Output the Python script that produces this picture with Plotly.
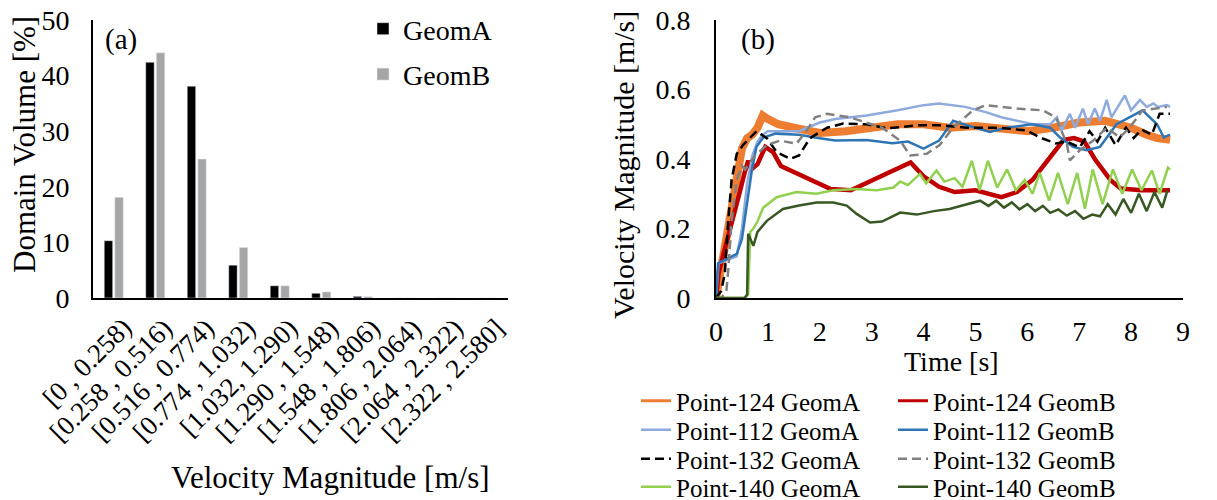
import plotly.graph_objects as go

W, H = 1217, 500
FONT = "Liberation Serif"

# ---------------- (a) histogram data ----------------
bins = ["[0 , 0.258)", "[0.258 , 0.516)", "[0.516 , 0.774)", "[0.774 , 1.032)",
        "[1.032, 1.290)", "[1.290 , 1.548)", "[1.548 , 1.806)", "[1.806 , 2.064)",
        "[2.064 , 2.322)", "[2.322 , 2.580]"]
geomA_vol = [10.3, 42.4, 38.1, 5.9, 2.2, 0.85, 0.3, 0.0, 0.0, 0.0]
geomB_vol = [18.1, 44.1, 25.0, 9.1, 2.2, 1.1, 0.25, 0.0, 0.0, 0.0]

# ---------------- (b) time series data ----------------
t_124A = [0, 0.1, 0.2, 0.3, 0.4, 0.5, 0.6, 0.7, 0.8, 0.9, 1.0, 1.2, 1.5, 1.8, 2.0, 2.5,
          3.0, 3.5, 4.0, 4.5, 5.0, 5.5, 6.0, 6.5, 7.0, 7.5, 8.0, 8.3, 8.5, 8.75]
v_124A = [0, 0.09, 0.15, 0.26, 0.36, 0.43, 0.46, 0.47, 0.49, 0.525, 0.515, 0.50, 0.49, 0.48,
          0.475, 0.48, 0.49, 0.50, 0.50, 0.49, 0.495, 0.49, 0.48, 0.49, 0.505, 0.51, 0.49,
          0.47, 0.46, 0.455]

t_124B = [0, 0.05, 0.15, 0.3, 0.45, 0.55, 0.62, 0.68, 0.8, 0.95, 1.1, 1.25, 1.55, 1.9, 2.2,
          2.6, 2.9, 3.3, 3.6, 3.75, 4.0, 4.3, 4.6, 5.0, 5.5, 5.8, 6.1, 6.4, 6.7, 6.9, 7.1,
          7.3, 7.6, 7.8, 8.2, 8.75]
v_124B = [0, 0.07, 0.13, 0.21, 0.30, 0.36, 0.395, 0.37, 0.385, 0.435, 0.42, 0.38, 0.36,
          0.335, 0.314, 0.31, 0.33, 0.36, 0.38, 0.39, 0.35, 0.32, 0.305, 0.31, 0.29, 0.305,
          0.34, 0.40, 0.455, 0.46, 0.45, 0.40, 0.34, 0.315, 0.31, 0.31]

t_112A = [0, 0.05, 0.4, 0.5, 0.6, 0.7, 0.8, 0.9, 1.0, 1.3, 1.6, 2.0, 2.3, 2.9, 3.5, 4.0,
          4.3, 4.8, 5.2, 5.5, 6.1, 6.44, 6.57, 6.66, 6.82, 6.92, 7.07, 7.17, 7.3, 7.4, 7.53,
          7.62, 7.88, 8.0, 8.17, 8.3, 8.43, 8.52, 8.69, 8.75]
v_112A = [0, 0.10, 0.12, 0.20, 0.33, 0.41, 0.45, 0.47, 0.48, 0.48, 0.48, 0.505, 0.515,
          0.525, 0.54, 0.555, 0.56, 0.55, 0.535, 0.52, 0.50, 0.50, 0.52, 0.482, 0.53, 0.49,
          0.545, 0.50, 0.545, 0.51, 0.57, 0.52, 0.583, 0.54, 0.57, 0.55, 0.56, 0.55, 0.555,
          0.55]

t_112B = [0, 0.04, 0.2, 0.4, 0.5, 0.59, 0.69, 0.78, 0.91, 1.15, 1.6, 2.0, 2.3, 2.9, 3.4,
          3.7, 4.0, 4.3, 4.57, 4.83, 5.28, 5.6, 6.1, 6.44, 6.63, 6.88, 7.14, 7.4, 7.72, 8.03,
          8.22, 8.5, 8.63, 8.75]
v_112B = [0, 0.10, 0.112, 0.127, 0.17, 0.26, 0.367, 0.435, 0.462, 0.473, 0.47, 0.46, 0.453,
          0.455, 0.445, 0.45, 0.43, 0.453, 0.51, 0.497, 0.478, 0.49, 0.50, 0.49, 0.462, 0.435,
          0.425, 0.435, 0.50, 0.525, 0.54, 0.50, 0.462, 0.47]

t_132A = [0, 0.1, 0.17, 0.23, 0.3, 0.4, 0.52, 0.78, 0.98, 1.17, 1.43, 1.6, 1.81, 2.14, 2.45,
          2.9, 3.3, 3.87, 4.31, 4.83, 5.47, 5.99, 6.24, 6.55, 6.76, 7.01, 7.2, 7.35, 7.5, 7.7,
          7.9, 8.05, 8.2, 8.4, 8.55, 8.75]
v_132A = [0, 0.02, 0.07, 0.21, 0.34, 0.415, 0.44, 0.48, 0.46, 0.42, 0.40, 0.41, 0.46, 0.49,
          0.502, 0.50, 0.488, 0.497, 0.497, 0.49, 0.49, 0.482, 0.462, 0.445, 0.45, 0.433, 0.48,
          0.45, 0.49, 0.44, 0.49, 0.46, 0.485, 0.47, 0.53, 0.53]

t_132B = [0, 0.1, 0.2, 0.24, 0.3, 0.4, 0.5, 0.56, 0.75, 0.98, 1.23, 1.55, 1.75, 1.91, 2.14,
          2.58, 3.2, 3.55, 3.74, 4.06, 4.31, 4.57, 4.95, 5.2, 5.8, 6.3, 6.55, 6.76, 6.82, 7.01,
          7.27, 7.53, 7.78, 7.97, 8.22, 8.5, 8.69]
v_132B = [0, 0, 0.02, 0.087, 0.22, 0.34, 0.38, 0.37, 0.41, 0.44, 0.453, 0.444, 0.482, 0.52,
          0.53, 0.52, 0.49, 0.453, 0.41, 0.415, 0.44, 0.49, 0.54, 0.555, 0.545, 0.54, 0.52,
          0.444, 0.396, 0.425, 0.453, 0.49, 0.462, 0.49, 0.54, 0.545, 0.55]

t_140A = [0, 0.55, 0.62, 0.66, 0.72, 0.8, 0.91, 1.17, 1.55, 1.93, 2.26, 2.71, 3.1, 3.42,
          3.55, 3.7, 3.93, 4.05, 4.25, 4.4, 4.6, 4.75, 4.93, 5.08, 5.24, 5.42, 5.61, 5.78,
          5.95, 6.1, 6.24, 6.42, 6.59, 6.78, 6.96, 7.11, 7.26, 7.45, 7.65, 7.83, 8.02, 8.2,
          8.4, 8.55, 8.71, 8.75]
v_140A = [0, 0, 0.01, 0.19, 0.2, 0.22, 0.26, 0.29, 0.305, 0.30, 0.31, 0.314, 0.31, 0.318,
          0.335, 0.325, 0.357, 0.33, 0.367, 0.335, 0.345, 0.32, 0.395, 0.31, 0.395, 0.318,
          0.37, 0.31, 0.34, 0.30, 0.36, 0.28, 0.36, 0.27, 0.36, 0.257, 0.37, 0.27, 0.37,
          0.30, 0.37, 0.31, 0.367, 0.30, 0.375, 0.37]

t_140B = [0, 0.55, 0.6, 0.62, 0.72, 0.8, 0.98, 1.29, 1.6, 1.94, 2.26, 2.52, 2.71, 2.97, 3.2,
          3.55, 3.87, 4.2, 4.5, 4.83, 5.09, 5.25, 5.4, 5.55, 5.7, 5.85, 6.0, 6.15, 6.3, 6.44,
          6.6, 6.76, 6.92, 7.08, 7.25, 7.4, 7.55, 7.7, 7.85, 8.0, 8.15, 8.3, 8.45, 8.6, 8.7]
v_140B = [0, 0, 0.01, 0.185, 0.15, 0.19, 0.222, 0.256, 0.266, 0.275, 0.275, 0.266, 0.242,
          0.217, 0.22, 0.246, 0.24, 0.25, 0.256, 0.27, 0.28, 0.265, 0.28, 0.26, 0.275, 0.255,
          0.27, 0.25, 0.265, 0.245, 0.255, 0.237, 0.25, 0.228, 0.24, 0.235, 0.27, 0.24, 0.285,
          0.245, 0.30, 0.25, 0.305, 0.26, 0.31]

# name, t, v, colour, plotted width, dash, legend
series = [
    ("Point-124 GeomA", t_124A, v_124A, "#ED7D31", 8, "solid", "legend"),
    ("Point-124 GeomB", t_124B, v_124B, "#C00000", 4.5, "solid", "legend"),
    ("Point-112 GeomA", t_112A, v_112A, "#8FAADC", 2.5, "solid", "legend2"),
    ("Point-112 GeomB", t_112B, v_112B, "#2E75B6", 2.5, "solid", "legend2"),
    ("Point-132 GeomA", t_132A, v_132A, "#000000", 2.5, "9px,5px", "legend3"),
    ("Point-132 GeomB", t_132B, v_132B, "#808080", 2.5, "9px,5px", "legend3"),
    ("Point-140 GeomA", t_140A, v_140A, "#92D050", 2.5, "solid", "legend4"),
    ("Point-140 GeomB", t_140B, v_140B, "#385723", 2.5, "solid", "legend4"),
]

fig = go.Figure()

fig.add_trace(go.Bar(x=bins, y=geomA_vol, name="GeomA", marker_color="#000000",
                     xaxis="x", yaxis="y", legend="legend5", legendgroup="a"))
fig.add_trace(go.Bar(x=bins, y=geomB_vol, name="GeomB", marker_color="#A6A6A6",
                     xaxis="x", yaxis="y", legend="legend5", legendgroup="b"))

for name, t, v, col, w, dash, leg in series:
    if w > 3:
        # thin copy (hidden under the thick line) that supplies the thin legend sample
        fig.add_trace(go.Scatter(x=t, y=v, mode="lines", name=name,
                                 line=dict(color=col, width=3, dash=dash),
                                 xaxis="x2", yaxis="y2", legend=leg))
        fig.add_trace(go.Scatter(x=t, y=v, mode="lines", name=name, showlegend=False,
                                 line=dict(color=col, width=w, dash=dash),
                                 xaxis="x2", yaxis="y2", legend=leg))
    else:
        fig.add_trace(go.Scatter(x=t, y=v, mode="lines", name=name,
                                 line=dict(color=col, width=w, dash=dash),
                                 xaxis="x2", yaxis="y2", legend=leg))


def px(x):
    return x / W


def py(y):
    return 1 - y / H


ydom = [py(298), py(20)]
axis_common = dict(showline=True, linecolor="black", linewidth=2, showgrid=False,
                   zeroline=False, ticks="", automargin=False)
tick_font = dict(family=FONT, size=28, color="black")

leg_font = dict(family=FONT, size=25, color="black")
legend_rows = {}
row_y = [401, 430, 459, 487]
for i, key in enumerate(["legend", "legend2", "legend3", "legend4"]):
    legend_rows[key] = dict(orientation="h", x=px(636), xanchor="left", y=py(row_y[i]),
                            yanchor="middle", entrywidth=212, entrywidthmode="pixels",
                            font=leg_font, bgcolor="rgba(0,0,0,0)")

fig.update_layout(
    width=W, height=H,
    margin=dict(l=0, r=0, t=0, b=0, autoexpand=False),
    paper_bgcolor="white", plot_bgcolor="white",
    font=dict(family=FONT, size=28, color="black"),
    barmode="group", bargap=0.49, bargroupgap=0.2,
    xaxis=dict(domain=[px(93), px(508)], type="category", showticklabels=False,
               categoryorder="array", categoryarray=bins,
               range=[-0.5, len(bins) - 0.5], autorange=False, **axis_common),
    yaxis=dict(domain=ydom, range=[0, 50], dtick=10, ticklabelstandoff=16,
               tickfont=tick_font, **axis_common),
    xaxis2=dict(domain=[px(716), px(1183)], range=[0, 9], dtick=1, anchor="y2",
                ticklabelstandoff=7, tickfont=tick_font, **axis_common),
    yaxis2=dict(domain=ydom, range=[0, 0.8], anchor="x2",
                tickvals=[0, 0.2, 0.4, 0.6, 0.8], ticktext=["0", "0.2", "0.4", "0.6", "0.8"],
                ticklabelstandoff=18, tickfont=tick_font, **axis_common),
    legend5=dict(x=px(363), xanchor="left", y=py(4), yanchor="top", tracegroupgap=6,
                 font=dict(family=FONT, size=28, color="black"), bgcolor="rgba(0,0,0,0)"),
    **legend_rows,
    showlegend=True,
)

# rotated category labels of panel (a), placed at each category
for b in bins:
    fig.add_annotation(text=b, x=b, xref="x", y=py(310), yref="paper",
                       xanchor="right", yanchor="top", xshift=26, textangle=-45,
                       showarrow=False, font=dict(family=FONT, size=27, color="black"))

ann = [
    dict(text="Domain Volume [%]", x=px(24), y=py(145), textangle=-90, size=31),
    dict(text="Velocity Magnitude [m/s]", x=px(330), y=py(477), textangle=0, size=31),
    dict(text="Velocity Magnitude [m/s]", x=px(623), y=py(165), textangle=-90, size=30),
    dict(text="Time [s]", x=px(951), y=py(361), textangle=0, size=28),
    dict(text="(a)", x=px(121), y=py(40), textangle=0, size=29),
    dict(text="(b)", x=px(758), y=py(40), textangle=0, size=29),
]
for a in ann:
    fig.add_annotation(text=a["text"], x=a["x"], y=a["y"], xref="paper", yref="paper",
                       xanchor="center", yanchor="middle", showarrow=False,
                       textangle=a["textangle"],
                       font=dict(family=FONT, size=a["size"], color="black"))

fig.write_html("out.html", config={"displayModeBar": False},
               post_script="document.body.style.margin='0';document.body.style.overflow='hidden';")
